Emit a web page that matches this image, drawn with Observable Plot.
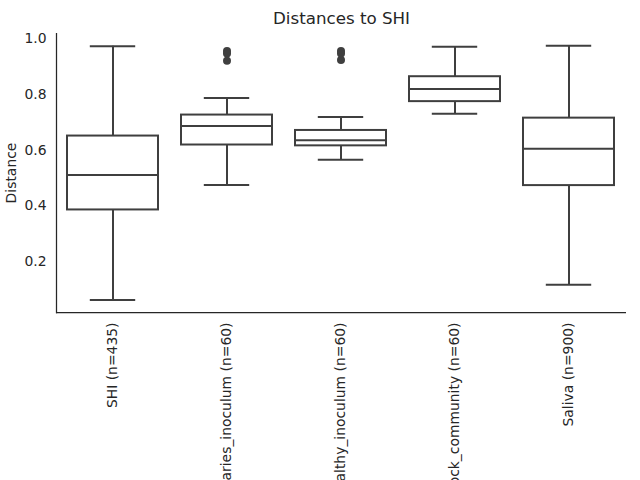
<!DOCTYPE html>
<html>
<head>
<meta charset="utf-8">
<script src="https://cdn.jsdelivr.net/npm/d3@7"></script>
<script src="https://cdn.jsdelivr.net/npm/@observablehq/plot@0.6"></script>
<style>
  html, body { margin: 0; padding: 0; background: #ffffff; overflow: hidden; }
  #chart svg { display: block; overflow: visible; }
</style>
</head>
<body>
<div id="chart"></div>
<script>
const categories = ["SHI (n=435)", "Caries_inoculum (n=60)", "Healthy_inoculum (n=60)", "Mock_community (n=60)", "Saliva (n=900)"];
const whiskerLow  = [0.064, 0.475, 0.565, 0.730, 0.119];
const q1          = [0.386, 0.618, 0.615, 0.773, 0.473];
const median      = [0.511, 0.686, 0.635, 0.818, 0.605];
const q3          = [0.650, 0.725, 0.670, 0.862, 0.714];
const whiskerHigh = [0.971, 0.786, 0.718, 0.969, 0.973];
const outlierCategory = ["Caries_inoculum (n=60)", "Caries_inoculum (n=60)", "Caries_inoculum (n=60)", "Healthy_inoculum (n=60)", "Healthy_inoculum (n=60)", "Healthy_inoculum (n=60)"];
const outlierValue    = [0.954, 0.945, 0.919, 0.954, 0.945, 0.922];
const yTicks = [0.2, 0.4, 0.6, 0.8, 1.0];
const titleText = "Distances to SHI";
const yLabel = "Distance";

const boxes = categories.map((c, i) => ({cat: c, lo: whiskerLow[i], q1: q1[i], med: median[i], q3: q3[i], hi: whiskerHigh[i]}));
const outliers = outlierCategory.map((c, i) => ({cat: c, v: outlierValue[i]}));

const ink = "#3f3f3f";
const textColor = "#262626";

const chart = Plot.plot({
  width: 640,
  height: 480,
  marginLeft: 56,
  marginRight: 14,
  marginTop: 33,
  marginBottom: 168,
  style: {fontFamily: "DejaVu Sans", fontSize: "13.9px", color: textColor, background: "#ffffff"},
  x: {domain: categories, paddingInner: 0.2, paddingOuter: 0.1, label: null},
  y: {domain: [0.0196, 1.0164], label: null},
  marks: [
    Plot.ruleX(boxes, {x: "cat", y1: "q3", y2: "hi", stroke: ink, strokeWidth: 2}),
    Plot.ruleX(boxes, {x: "cat", y1: "lo", y2: "q1", stroke: ink, strokeWidth: 2}),
    Plot.tickY(boxes, {x: "cat", y: "hi", stroke: ink, strokeWidth: 2, insetLeft: 22.8, insetRight: 22.8}),
    Plot.tickY(boxes, {x: "cat", y: "lo", stroke: ink, strokeWidth: 2, insetLeft: 22.8, insetRight: 22.8}),
    Plot.barY(boxes, {x: "cat", y1: "q1", y2: "q3", fill: "#ffffff", stroke: ink, strokeWidth: 2}),
    Plot.tickY(boxes, {x: "cat", y: "med", stroke: ink, strokeWidth: 2}),
    Plot.dot(outliers, {x: "cat", y: "v", r: 4, fill: ink, stroke: "none"}),
    Plot.axisY({ticks: yTicks, tickFormat: ".1f", tickSize: 0, tickPadding: 10, label: null, color: textColor, fontSize: "13.9px"}),
    Plot.axisX({tickRotate: -90, tickSize: 0, tickPadding: 10, label: null, color: textColor, fontSize: "13.9px"}),
    Plot.ruleY([0.0196], {stroke: textColor, strokeWidth: 1.25}),
    Plot.frame({anchor: "left", stroke: textColor, strokeWidth: 1.25}),
    Plot.text([yLabel], {frameAnchor: "left", dx: -45, rotate: -90, textAnchor: "middle", lineAnchor: "middle", fontSize: 13.9, fill: textColor}),
    Plot.text([titleText], {frameAnchor: "top", dy: -21, fontSize: 16.7, fill: textColor})
  ]
});
document.getElementById("chart").appendChild(chart);
</script>
</body>
</html>
